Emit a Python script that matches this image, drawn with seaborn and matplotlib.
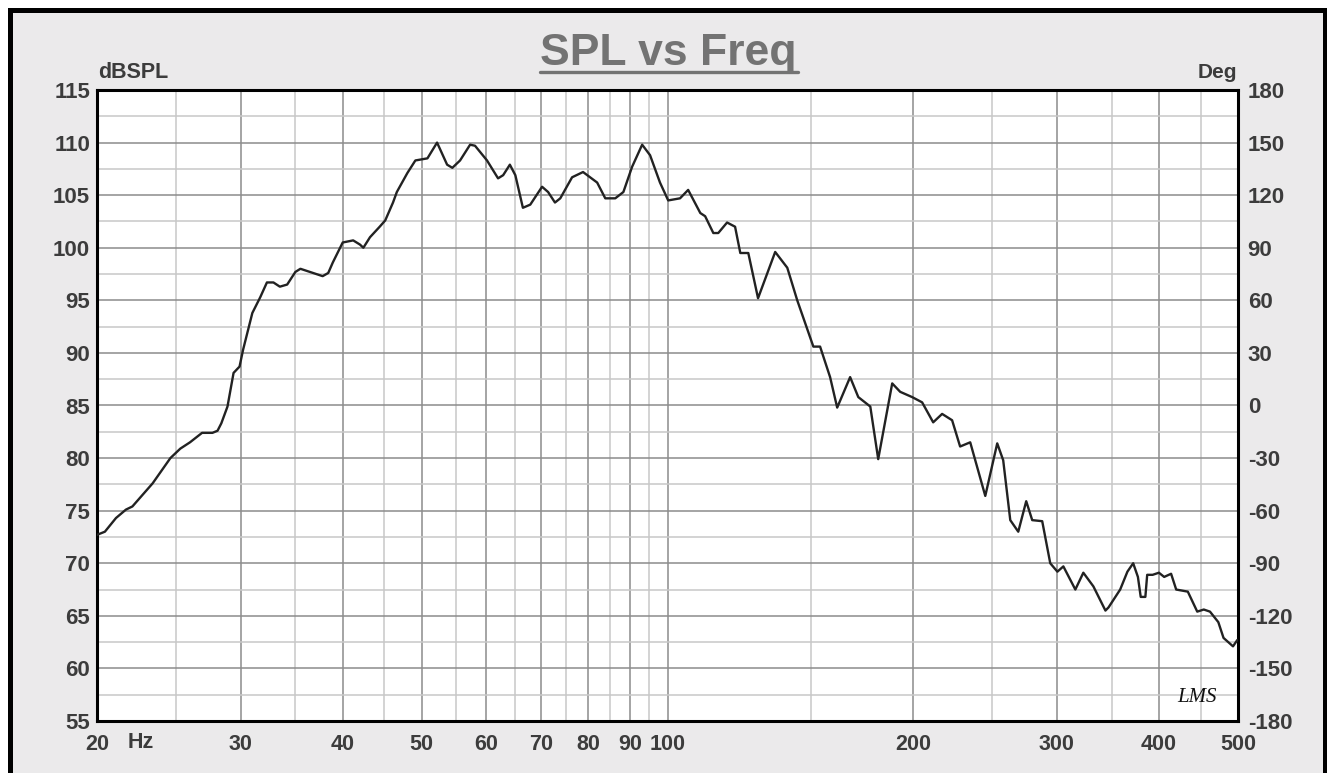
import matplotlib
matplotlib.use("Agg")
from matplotlib import pyplot as plt
from matplotlib.patches import Rectangle
from matplotlib.lines import Line2D
from matplotlib.ticker import FixedLocator, NullFormatter
import seaborn as sns
import pandas as pd

freq = [20.0, 20.45, 20.9, 21.1, 21.7, 22.1, 23.4, 24.6, 25.3, 26.0, 26.9, 27.7, 28.1, 28.4,
        28.9, 29.4, 29.9, 30.2, 31.0, 31.7, 32.3, 32.9, 33.5, 34.2, 35.0, 35.5, 36.8, 37.8,
        38.4, 38.9, 40.0, 41.2, 42.0, 42.4, 43.2, 44.4, 45.1, 46.1, 46.6, 48.0, 49.1, 50.8,
        52.2, 53.7, 54.5, 55.7, 57.3, 58.1, 60.1, 62.0, 62.9, 64.1, 65.1, 66.5, 67.9, 70.2,
        71.4, 72.8, 73.9, 76.4, 78.8, 82.0, 83.9, 86.3, 88.3, 90.5, 93.1, 95.2, 97.9, 100.2,
        103.6, 106.0, 109.7, 111.2, 113.8, 115.4, 118.3, 121.0, 122.8, 125.6, 129.1, 135.5,
        140.2, 144.2, 150.9, 153.8, 158.2, 161.4, 167.4, 171.3, 177.2, 181.2, 188.5, 192.8,
        199.4, 205.1, 211.6, 217.0, 223.2, 228.3, 234.9, 245.1, 253.5, 257.8, 263.0, 269.0,
        275.1, 279.8, 287.8, 294.4, 300.4, 305.5, 316.0, 323.2, 332.5, 344.0, 347.0, 358.6,
        366.0, 372.0, 377.0, 380.0, 385.0, 387.0, 393.0, 400.0, 406.0, 414.0, 420.0, 434.0,
        445.7, 454.0, 462.0, 473.0, 480.0, 493.0, 499.0]
spl = [72.7, 73.0, 73.9, 74.3, 75.1, 75.4, 77.6, 80.0, 80.9, 81.5, 82.4, 82.4, 82.6, 83.3,
       84.9, 88.1, 88.7, 90.3, 93.8, 95.3, 96.7, 96.7, 96.3, 96.5, 97.7, 98.0, 97.6, 97.3,
       97.6, 98.6, 100.5, 100.7, 100.3, 100.0, 101.0, 102.0, 102.6, 104.3, 105.3, 107.1, 108.3, 108.5,
       110.0, 107.9, 107.6, 108.3, 109.8, 109.7, 108.3, 106.6, 106.9, 107.9, 106.9, 103.8, 104.1, 105.8,
       105.3, 104.3, 104.7, 106.7, 107.2, 106.2, 104.7, 104.7, 105.3, 107.7, 109.8, 108.8, 106.2, 104.5,
       104.7, 105.5, 103.3, 103.0, 101.4, 101.4, 102.4, 102.0, 99.5, 99.5, 95.2, 99.6,
       98.1, 95.0, 90.6, 90.6, 87.7, 84.8, 87.7, 85.8, 84.9, 79.9, 87.1, 86.3,
       85.8, 85.3, 83.4, 84.2, 83.6, 81.1, 81.5, 76.4, 81.4, 79.8, 74.1, 73.0,
       75.9, 74.1, 74.0, 70.0, 69.2, 69.7, 67.5, 69.1, 67.8, 65.5, 65.8, 67.5,
       69.2, 70.0, 68.7, 66.8, 66.8, 68.9, 68.9, 69.1, 68.7, 69.0, 67.5, 67.3,
       65.4, 65.6, 65.4, 64.4, 62.9, 62.1, 62.7]

x_major = [20, 30, 40, 50, 60, 70, 80, 90, 100, 200, 300, 400, 500]
x_minor = [25, 35, 45, 55, 65, 75, 85, 95, 150, 250, 350, 450]
x_labels = ["20", "30", "40", "50", "60", "70", "80", "90", "100", "200", "300", "400", "500"]
spl_ticks = list(range(55, 116, 5))
deg_ticks = list(range(-180, 181, 30))

df = pd.DataFrame({"Freq": freq, "SPL": spl})

sns.set_style("white")
plt.rcParams["font.family"] = ["Liberation Sans", "DejaVu Sans"]
plt.rcParams["font.weight"] = "bold"
plt.rcParams["axes.unicode_minus"] = False

W, H = 1327, 773
fig = plt.figure(figsize=(W / 100, H / 100), dpi=100)
fig.patch.set_facecolor("white")

# grey panel with heavy black frame
fig.patches.append(Rectangle((10 / W, -0.02), (1324.5 - 10) / W, 1.02 - 10 / H,
                             transform=fig.transFigure, facecolor="#ebeaeb",
                             edgecolor="black", linewidth=3.6, zorder=-5))

ax = fig.add_axes([97 / W, 1 - 721 / H, (1238 - 97) / W, (721 - 90) / H])
ax.set_facecolor("white")

sns.lineplot(data=df, x="Freq", y="SPL", ax=ax, color="#222222", linewidth=1.7, zorder=5)

ax.set_xscale("log")
ax.set_xlim(20, 500)
ax.set_ylim(55, 115)
ax.xaxis.set_major_locator(FixedLocator(x_major))
ax.xaxis.set_minor_locator(FixedLocator(x_minor))
ax.set_xticklabels(x_labels)
ax.xaxis.set_minor_formatter(NullFormatter())
ax.set_yticks(spl_ticks)
ax.set_yticks([v + 2.5 for v in spl_ticks[:-1]], minor=True)
ax.set_xlabel("")
ax.set_ylabel("")

ax.grid(True, which="major", color="#8c8c8c", linewidth=1.1)
ax.grid(True, which="minor", color="#c8c8c8", linewidth=1.1)
ax.set_axisbelow(True)

lab_color = "#3c3c3c"
ax.tick_params(axis="both", which="both", length=0)
ax.tick_params(axis="y", pad=5, labelsize=16, labelcolor=lab_color)
ax.tick_params(axis="x", pad=9, labelsize=15.5, labelcolor=lab_color)
for lbl in ax.get_xticklabels() + ax.get_yticklabels():
    lbl.set_fontweight("bold")

for s in ax.spines.values():
    s.set_visible(True)
    s.set_color("black")
    s.set_linewidth(2.2)

ax2 = ax.twinx()
ax2.set_ylim(-180, 180)
ax2.set_yticks(deg_ticks)
ax2.tick_params(axis="y", length=0, pad=7, labelsize=16, labelcolor=lab_color)
for lbl in ax2.get_yticklabels():
    lbl.set_fontweight("bold")
for s in ax2.spines.values():
    s.set_visible(False)

fig.text(141 / W, 1 - 743 / H, "Hz", ha="center", va="center", fontsize=15.5,
         fontweight="bold", color=lab_color)

fig.text(98 / W, 1 - 78 / H, "dBSPL", ha="left", va="baseline", fontsize=15.5,
         fontweight="bold", color=lab_color)
fig.text(1237 / W, 1 - 78 / H, "Deg", ha="right", va="baseline", fontsize=15,
         fontweight="bold", color=lab_color)

fig.text(668 / W, 1 - 65 / H, "SPL vs Freq", ha="center", va="baseline", fontsize=32,
         fontweight="bold", color="#737373")
fig.lines.append(Line2D([540 / W, 798 / W], [1 - 72 / H, 1 - 72 / H], transform=fig.transFigure,
                        color="#737373", linewidth=2.4))

fig.text(1197 / W, 1 - 697 / H, "LMS", ha="center", va="center", fontsize=15,
         fontstyle="italic", fontweight="normal", family="Liberation Serif", color="#111111")

fig.savefig("out.png", dpi=100)
